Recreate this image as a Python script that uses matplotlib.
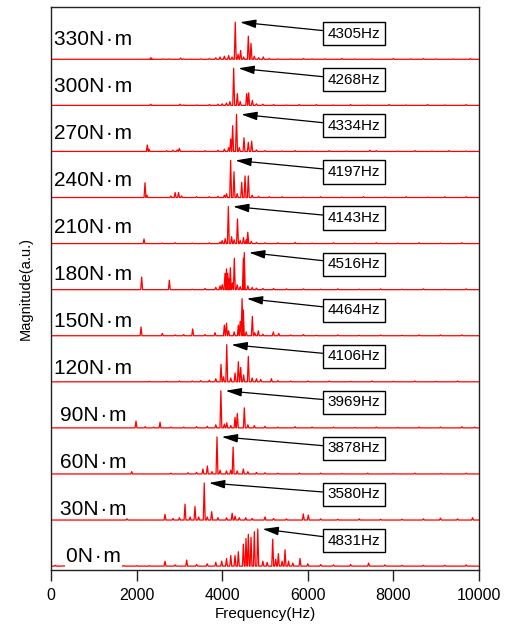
import matplotlib
matplotlib.use("Agg")
import matplotlib.pyplot as plt

torques = [0, 30, 60, 90, 120, 150, 180, 210, 240, 270, 300, 330]
peak_freqs = [4831, 3580, 3878, 3969, 4106, 4464, 4516, 4143, 4197, 4334, 4268, 4305]

# (frequency Hz, relative magnitude)
f_0 = [100, 300, 1700, 2000, 2300, 2664, 2900, 3170, 3400, 3650, 3850, 3988, 4100, 4200, 4299, 4377, 4494, 4556, 4610, 4673, 4751, 4831, 4950, 5050, 5180, 5250, 5312, 5400, 5468, 5550, 5650, 5818, 6000, 6300, 6600, 7000, 7420, 7800, 8200, 8700, 9200, 9700]
a_0 = [0.04, 0.03, 0.03, 0.03, 0.03, 0.15, 0.05, 0.18, 0.06, 0.08, 0.12, 0.15, 0.22, 0.30, 0.30, 0.40, 0.60, 0.75, 0.86, 0.78, 0.93, 1.0, 0.15, 0.12, 0.73, 0.20, 0.35, 0.15, 0.45, 0.15, 0.10, 0.22, 0.08, 0.06, 0.05, 0.06, 0.10, 0.05, 0.04, 0.04, 0.04, 0.05]

f_30 = [1776, 2664, 2850, 3000, 3131, 3250, 3364, 3450, 3580, 3650, 3754, 3900, 4100, 4232, 4300, 4400, 4550, 4700, 5000, 5200, 5500, 5895, 6012, 6300, 6700, 7200, 7700, 8200, 8700, 9100, 9500, 9850]
a_30 = [0.05, 0.17, 0.06, 0.08, 0.44, 0.10, 0.38, 0.10, 1.0, 0.10, 0.24, 0.08, 0.08, 0.20, 0.12, 0.08, 0.08, 0.06, 0.10, 0.06, 0.05, 0.18, 0.15, 0.05, 0.04, 0.05, 0.04, 0.04, 0.05, 0.07, 0.05, 0.08]

f_60 = [1885, 2800, 3200, 3400, 3550, 3653, 3760, 3878, 3950, 4100, 4200, 4255, 4350, 4494, 4600, 4800, 5000, 5300, 5800, 6300, 6800, 7400, 8000, 8500, 9100, 9700]
a_60 = [0.08, 0.04, 0.05, 0.06, 0.15, 0.23, 0.08, 1.0, 0.12, 0.10, 0.12, 0.73, 0.10, 0.15, 0.08, 0.06, 0.05, 0.04, 0.04, 0.04, 0.03, 0.04, 0.03, 0.04, 0.03, 0.04]

f_90 = [1986, 2200, 2400, 2547, 2800, 3100, 3400, 3650, 3850, 3969, 4050, 4107, 4200, 4300, 4353, 4517, 4600, 4750, 5000, 5300, 5700, 6100, 6600, 7100, 7600, 8100, 8600, 9100, 9600, 9900]
a_90 = [0.20, 0.05, 0.04, 0.17, 0.04, 0.04, 0.05, 0.06, 0.10, 1.0, 0.12, 0.15, 0.08, 0.30, 0.40, 0.55, 0.10, 0.08, 0.06, 0.04, 0.05, 0.04, 0.04, 0.03, 0.04, 0.03, 0.04, 0.04, 0.05, 0.04]

f_120 = [2300, 2700, 3000, 3300, 3500, 3700, 3850, 3972, 4030, 4106, 4200, 4300, 4377, 4432, 4500, 4610, 4700, 4800, 4900, 5150, 5300, 5600, 6000, 6500, 7000, 7500, 8000, 8500, 9000, 9500]
a_120 = [0.03, 0.03, 0.04, 0.04, 0.05, 0.06, 0.10, 0.48, 0.15, 1.0, 0.12, 0.25, 0.55, 0.40, 0.20, 0.69, 0.12, 0.10, 0.08, 0.10, 0.05, 0.04, 0.04, 0.04, 0.03, 0.04, 0.03, 0.04, 0.03, 0.04]

f_150 = [2104, 2601, 2900, 3100, 3310, 3600, 3832, 4050, 4100, 4150, 4280, 4377, 4420, 4464, 4494, 4560, 4704, 4760, 4844, 4950, 5195, 5320, 5600, 5900, 6200, 6700, 7200, 7700, 8200, 8600, 9100, 9600]
a_150 = [0.25, 0.08, 0.04, 0.05, 0.20, 0.05, 0.10, 0.30, 0.35, 0.15, 0.12, 0.30, 0.40, 1.0, 0.70, 0.12, 0.53, 0.10, 0.15, 0.06, 0.12, 0.08, 0.04, 0.05, 0.03, 0.04, 0.03, 0.04, 0.03, 0.04, 0.04, 0.04]

f_180 = [2118, 2765, 3300, 3600, 3850, 3950, 4000, 4065, 4100, 4130, 4160, 4190, 4240, 4283, 4350, 4420, 4494, 4516, 4600, 4700, 4800, 4950, 5200, 5500, 5900, 6300, 6700, 7200, 7700, 8200, 8700, 9200, 9700]
a_180 = [0.35, 0.27, 0.03, 0.05, 0.08, 0.12, 0.15, 0.45, 0.57, 0.45, 0.30, 0.60, 0.20, 0.85, 0.15, 0.10, 0.85, 1.0, 0.12, 0.08, 0.06, 0.05, 0.05, 0.04, 0.04, 0.03, 0.04, 0.03, 0.04, 0.03, 0.04, 0.03, 0.04]

f_210 = [2173, 2600, 2900, 3300, 3700, 3950, 4000, 4070, 4143, 4220, 4280, 4357, 4420, 4497, 4560, 4598, 4680, 4800, 5000, 5300, 5700, 6100, 6600, 7100, 7600, 8100, 8600, 9100, 9600]
a_210 = [0.14, 0.03, 0.04, 0.03, 0.04, 0.06, 0.10, 0.15, 1.0, 0.20, 0.12, 0.67, 0.10, 0.18, 0.12, 0.32, 0.08, 0.05, 0.04, 0.04, 0.05, 0.03, 0.04, 0.03, 0.04, 0.03, 0.04, 0.03, 0.04]

f_240 = [2196, 2240, 2800, 2900, 2980, 3050, 3400, 3700, 3900, 4050, 4100, 4197, 4276, 4350, 4455, 4533, 4610, 4700, 4850, 5100, 5400, 5900, 6300, 6800, 7300, 7800, 8300, 8800, 9200, 9700]
a_240 = [0.41, 0.08, 0.06, 0.15, 0.15, 0.06, 0.04, 0.04, 0.05, 0.08, 0.12, 1.0, 0.70, 0.12, 0.42, 0.59, 0.59, 0.08, 0.05, 0.04, 0.04, 0.03, 0.04, 0.03, 0.04, 0.03, 0.04, 0.03, 0.04, 0.04]

f_270 = [2250, 2290, 2700, 2850, 2950, 3000, 3300, 3600, 3900, 4050, 4150, 4198, 4244, 4334, 4400, 4509, 4610, 4688, 4800, 5000, 5400, 5700, 6100, 6500, 6900, 7450, 7600, 8100, 8500, 8900, 9300, 9700]
a_270 = [0.19, 0.08, 0.04, 0.05, 0.06, 0.10, 0.03, 0.04, 0.05, 0.08, 0.12, 0.35, 0.70, 1.0, 0.12, 0.38, 0.26, 0.29, 0.06, 0.04, 0.03, 0.04, 0.03, 0.04, 0.03, 0.05, 0.04, 0.03, 0.04, 0.03, 0.04, 0.03]

f_300 = [2330, 3015, 3100, 3400, 3700, 3900, 4000, 4100, 4180, 4268, 4353, 4420, 4572, 4618, 4704, 4800, 4950, 5200, 5500, 5800, 6200, 6600, 7000, 7400, 7900, 8300, 8800, 9200, 9700]
a_300 = [0.05, 0.05, 0.03, 0.03, 0.04, 0.05, 0.06, 0.08, 0.12, 1.0, 0.33, 0.12, 0.33, 0.35, 0.15, 0.06, 0.05, 0.04, 0.03, 0.04, 0.04, 0.03, 0.04, 0.03, 0.04, 0.03, 0.04, 0.03, 0.04]

f_330 = [2330, 2350, 2620, 2760, 3030, 3100, 3250, 3500, 3700, 3850, 3950, 4050, 4150, 4230, 4305, 4370, 4430, 4500, 4610, 4673, 4750, 4850, 4960, 5100, 5300, 5600, 5900, 6100, 6400, 6800, 7100, 7500, 8000, 8400, 8700, 9000, 9400, 9800]
a_330 = [0.06, 0.04, 0.03, 0.03, 0.05, 0.03, 0.02, 0.03, 0.04, 0.06, 0.08, 0.10, 0.12, 0.08, 1.0, 0.15, 0.25, 0.08, 0.63, 0.44, 0.10, 0.06, 0.08, 0.04, 0.03, 0.03, 0.04, 0.03, 0.03, 0.04, 0.03, 0.03, 0.04, 0.03, 0.04, 0.03, 0.03, 0.04]

spectra = [(f_0, a_0), (f_30, a_30), (f_60, a_60), (f_90, a_90), (f_120, a_120),
           (f_150, a_150), (f_180, a_180), (f_210, a_210), (f_240, a_240),
           (f_270, a_270), (f_300, a_300), (f_330, a_330)]

plt.rcParams['font.family'] = ['Liberation Sans', 'DejaVu Sans']

fig = plt.figure(figsize=(5.07, 6.30), dpi=100)
ax = fig.add_axes([0.1006, 0.0952, 0.8442, 0.8937])

SCALE = 0.82
DW = 22
FLOOR = 0.015

for i, (fr, am) in enumerate(spectra):
    xs = [0]
    ys = [i + FLOOR]
    for f, a in sorted(zip(fr, am)):
        xs += [f - DW, f, f + DW]
        ys += [i + FLOOR, i + a * SCALE, i + FLOOR]
    xs.append(10000)
    ys.append(i + FLOOR)
    ax.plot(xs, ys, color='#ff0000', lw=0.9, zorder=2)

    txt_kw = dict(fontsize=15, ha='center', va='center', zorder=4)
    if i == 0:
        txt_kw['bbox'] = dict(boxstyle='square,pad=0.05', fc='white', ec='none')
    ax.text(990, i + 0.22 + 0.02 * i, f"{torques[i]}N\u200a·\u200am", **txt_kw)

    ax.annotate(f"{peak_freqs[i]}Hz", xy=(peak_freqs[i] + 110, i + SCALE),
                xytext=(7080, i + 0.57), fontsize=11, ha='center', va='center',
                zorder=5,
                bbox=dict(boxstyle='square,pad=0.3', fc='white', ec='black', lw=1),
                arrowprops=dict(arrowstyle='-|>,head_length=0.6,head_width=0.16',
                                mutation_scale=16, color='black', lw=0.9,
                                shrinkA=0, shrinkB=0))

ax.set_xlim(0, 10000)
ax.set_ylim(-0.07, 12.15)
ax.set_xticks([0, 2000, 4000, 6000, 8000, 10000])
ax.set_yticks([])
ax.tick_params(axis='x', direction='out', length=8, width=1, labelsize=11.5, pad=4.9,
               color='#222222')
for s in ax.spines.values():
    s.set_color('#222222')
    s.set_linewidth(1)
ax.set_xlabel('Frequency(Hz)', fontsize=11, labelpad=3)
ax.set_ylabel('Magnitude(a.u.)', fontsize=10.5, labelpad=13)

fig.savefig('out.png', dpi=100)
